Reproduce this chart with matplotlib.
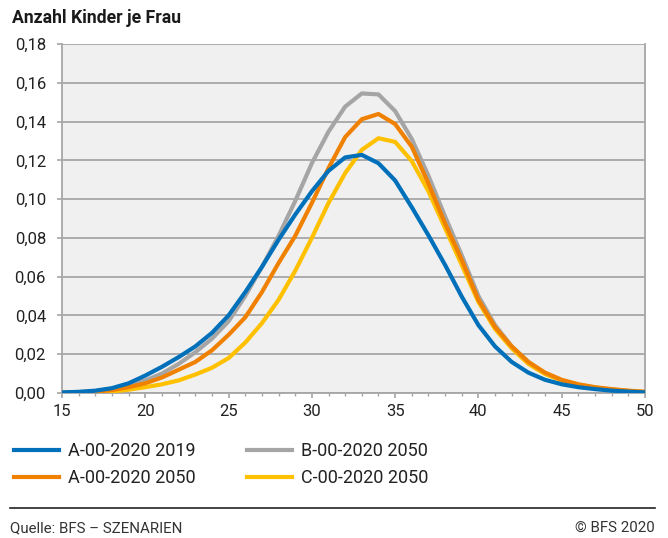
import matplotlib
matplotlib.use("Agg")
import matplotlib.pyplot as plt
from matplotlib.ticker import MultipleLocator, FuncFormatter
from matplotlib.lines import Line2D

plt.rcParams['font.family'] = ['Roboto', 'DejaVu Sans']

ages = list(range(15, 51))
a2019 = [0.0003, 0.0006, 0.0012, 0.0025, 0.005, 0.009, 0.0135, 0.0185, 0.024, 0.031,
         0.040, 0.052, 0.065, 0.079, 0.092, 0.104, 0.1146, 0.1215, 0.1228, 0.1185,
         0.1096, 0.0958, 0.0813, 0.066, 0.0497, 0.035, 0.024, 0.016, 0.0105, 0.0068,
         0.0045, 0.003, 0.002, 0.0012, 0.0007, 0.0003]
a2050 = [0.0001, 0.0003, 0.0007, 0.0015, 0.003, 0.005, 0.008, 0.012, 0.016, 0.022,
         0.030, 0.039, 0.052, 0.067, 0.081, 0.098, 0.116, 0.132, 0.1412, 0.1439,
         0.1387, 0.127, 0.108, 0.0874, 0.0686, 0.048, 0.034, 0.024, 0.016, 0.0105,
         0.0068, 0.0045, 0.003, 0.002, 0.0012, 0.0006]
b2050 = [0.0002, 0.0004, 0.001, 0.002, 0.004, 0.0065, 0.010, 0.015, 0.021, 0.028,
         0.037, 0.050, 0.065, 0.081, 0.099, 0.1185, 0.1348, 0.1477, 0.1545, 0.154,
         0.1454, 0.131, 0.112, 0.091, 0.071, 0.050, 0.035, 0.024, 0.016, 0.010,
         0.0065, 0.004, 0.0027, 0.0017, 0.001, 0.0005]
c2050 = [0.0001, 0.0002, 0.0004, 0.0008, 0.0017, 0.003, 0.0045, 0.0065, 0.0095, 0.013,
         0.018, 0.026, 0.036, 0.048, 0.063, 0.080, 0.098, 0.1134, 0.1254, 0.1314,
         0.1295, 0.1196, 0.104, 0.085, 0.066, 0.047, 0.033, 0.023, 0.015, 0.0098,
         0.0064, 0.0042, 0.0028, 0.0018, 0.0011, 0.0005]

labels = ["A-00-2020 2019", "A-00-2020 2050", "B-00-2020 2050", "C-00-2020 2050"]
colors = ["#0070BA", "#F08100", "#A5A5A5", "#FFC000"]
series = [a2019, a2050, b2050, c2050]
zorders = [5, 4, 2, 3]

fig = plt.figure(figsize=(6.68, 5.38), dpi=100)
ax = fig.add_axes([62/668, 1-393/538, (645-62)/668, (393-44)/538])
ax.set_facecolor("#F0F0F0")

for s, c, lab, z in zip(series, colors, labels, zorders):
    ax.plot(ages, s, color=c, lw=3.0, label=lab, zorder=z, solid_joinstyle='round')

ax.set_xlim(15, 50)
ax.set_ylim(0, 0.18)
ax.xaxis.set_major_locator(MultipleLocator(5))
ax.xaxis.set_minor_locator(MultipleLocator(1))
ax.yaxis.set_major_locator(MultipleLocator(0.02))
ax.yaxis.set_major_formatter(FuncFormatter(lambda v, p: f"{v:.2f}".replace(".", ",")))
ax.grid(axis='y', color="#A6A6A6", lw=1.3, zorder=1)
ax.set_axisbelow(True)
for sp in ['left', 'right', 'bottom']:
    ax.spines[sp].set_color("#A6A6A6")
    ax.spines[sp].set_linewidth(1.3)
ax.spines['top'].set_visible(False)
ax.tick_params(axis='both', which='both', color="#A6A6A6", labelcolor="#222222", labelsize=12)
ax.tick_params(axis='x', which='major', length=3.6, width=1.2, pad=4)
ax.tick_params(axis='x', which='minor', length=2.5, width=1.0)
ax.tick_params(axis='y', length=3.6, width=1.2, pad=8)

fig.text(12/668, 1-18/538, "Anzahl Kinder je Frau", fontsize=12.7, fontweight='bold',
         color="#1a1a1a", va='center', ha='left')

handles, labs = ax.get_legend_handles_labels()
fig.legend(handles, labs, ncol=2, loc='upper left', bbox_to_anchor=(-2/668, 1-426/538),
           frameon=False, fontsize=13, handlelength=2.5, handletextpad=0.5,
           columnspacing=2.8, labelspacing=0.5, labelcolor="#222222")

fig.add_artist(Line2D([10/668, 655/668], [1-508/538, 1-508/538], color="#222222", lw=1.2))
fig.text(10/668, 1-528/538, "Quelle: BFS – SZENARIEN", fontsize=10.8, color="#333333",
         va='center', ha='left')
fig.text(655/668, 1-528/538, "© BFS 2020", fontsize=10.8, color="#333333",
         va='center', ha='right')

fig.savefig("out.png", dpi=100)
